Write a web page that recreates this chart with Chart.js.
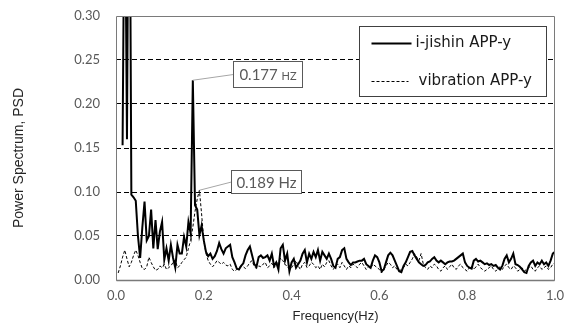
<!DOCTYPE html>
<html><head><meta charset="utf-8">
<script src="https://cdn.jsdelivr.net/npm/chart.js@4"></script>
<style>html,body{margin:0;padding:0;background:#fff}#wrap{width:568px;height:328px}</style>
</head><body><div id="wrap"><canvas id="c" width="568" height="328"></canvas></div>
<script>
// Frequency bins (Hz)
const freqHz = [
0,0.005,0.01,0.015,0.02,0.025,0.03,0.035,0.04,0.045,0.05,0.055,0.06,0.065,0.07,0.075,0.08,0.085,0.09,0.095,
0.1,0.105,0.11,0.115,0.12,0.125,0.13,0.135,0.14,0.145,0.15,0.155,0.16,0.165,0.17,0.175,0.18,0.185,0.19,0.195,
0.2,0.205,0.21,0.215,0.22,0.225,0.23,0.235,0.24,0.245,0.25,0.255,0.26,0.265,0.27,0.275,0.28,0.285,0.29,0.295,
0.3,0.305,0.31,0.315,0.32,0.325,0.33,0.335,0.34,0.345,0.35,0.355,0.36,0.365,0.37,0.375,0.38,0.385,0.39,0.395,
0.4,0.405,0.41,0.415,0.42,0.425,0.43,0.435,0.44,0.445,0.45,0.455,0.46,0.465,0.47,0.475,0.48,0.485,0.49,0.495,
0.5,0.505,0.51,0.515,0.52,0.525,0.53,0.535,0.54,0.545,0.55,0.555,0.56,0.565,0.57,0.575,0.58,0.585,0.59,0.595,
0.6,0.605,0.61,0.615,0.62,0.625,0.63,0.635,0.64,0.645,0.65,0.655,0.66,0.665,0.67,0.675,0.68,0.685,0.69,0.695,
0.7,0.705,0.71,0.715,0.72,0.725,0.73,0.735,0.74,0.745,0.75,0.755,0.76,0.765,0.77,0.775,0.78,0.785,0.79,0.795,
0.8,0.805,0.81,0.815,0.82,0.825,0.83,0.835,0.84,0.845,0.85,0.855,0.86,0.865,0.87,0.875,0.88,0.885,0.89,0.895,
0.9,0.905,0.91,0.915,0.92,0.925,0.93,0.935,0.94,0.945,0.95,0.955,0.96,0.965,0.97,0.975,0.98,0.985,0.99,0.995,
1
];
// PSD, i-jishin APP-y (solid)
const psdIjishin = [
null,null,null,0.153,0.50,0.16,0.60,0.097,0.094,0.090,
0.05,0.025,0.06,0.089,0.045,0.05,0.080,0.036,0.068,0.035,
0.055,0.066,0.023,0.036,0.022,0.040,0.025,0.014,0.040,0.030,
0.030,0.049,0.038,0.066,0.053,0.227,0.085,0.080,0.051,0.062,
0.045,0.032,0.027,0.030,0.024,0.027,0.033,0.042,0.035,0.030,
0.036,0.038,0.040,0.026,0.020,0.013,0.012,0.016,0.019,0.028,
0.034,0.038,0.028,0.018,0.015,0.026,0.028,0.025,0.026,0.028,
0.022,0.030,0.016,0.020,0.012,0.036,0.040,0.022,0.030,0.010,
0.020,0.024,0.014,0.018,0.022,0.030,0.034,0.020,0.030,0.024,
0.032,0.026,0.034,0.022,0.032,0.028,0.024,0.030,0.024,0.016,
0.014,0.024,0.026,0.034,0.036,0.024,0.020,0.017,0.020,0.020,
0.021,0.022,0.022,0.024,0.018,0.016,0.014,0.022,0.028,0.026,
0.020,0.010,0.012,0.020,0.028,0.031,0.028,0.022,0.016,0.010,
0.009,0.016,0.020,0.026,0.032,0.033,0.028,0.024,0.020,0.018,
0.016,0.017,0.020,0.021,0.024,0.026,0.022,0.020,0.022,0.020,
0.018,0.020,0.021,0.021,0.022,0.024,0.026,0.028,0.030,0.020,
0.016,0.014,0.013,0.022,0.024,0.021,0.022,0.020,0.018,0.019,
0.017,0.018,0.016,0.017,0.014,0.012,0.016,0.024,0.028,0.020,
0.024,0.030,0.018,0.017,0.015,0.012,0.009,0.008,0.016,0.020,
0.022,0.016,0.020,0.018,0.022,0.018,0.020,0.016,0.022,0.030,
0.032
];
// PSD, vibration APP-y (dashed)
const psdVibration = [
null,0.008,0.016,0.026,0.034,0.024,0.015,0.020,0.028,0.034,
0.028,0.020,0.013,0.012,0.015,0.026,0.020,0.015,0.011,0.012,
0.016,0.014,0.018,0.012,0.014,0.016,0.020,0.023,0.014,0.016,
0.020,0.023,0.026,0.036,0.045,0.060,0.078,0.092,0.102,0.075,
0.045,0.030,0.022,0.018,0.015,0.018,0.022,0.020,0.018,0.020,
0.017,0.016,0.018,0.012,0.010,0.012,0.014,0.016,0.015,0.013,
0.016,0.020,0.022,0.015,0.013,0.016,0.015,0.018,0.020,0.014,
0.016,0.019,0.014,0.018,0.020,0.025,0.022,0.018,0.015,0.012,
0.014,0.018,0.022,0.016,0.012,0.018,0.020,0.014,0.016,0.020,
0.018,0.014,0.016,0.012,0.018,0.015,0.020,0.022,0.016,0.012,
0.016,0.018,0.014,0.020,0.016,0.012,0.016,0.014,0.018,0.016,
0.014,0.018,0.020,0.016,0.012,0.015,0.013,0.018,0.016,0.014,
0.012,0.008,0.012,0.016,0.020,0.018,0.014,0.016,0.012,0.010,
0.012,0.014,0.018,0.016,0.020,0.024,0.030,0.026,0.022,0.030,
0.018,0.014,0.012,0.016,0.014,0.018,0.016,0.012,0.010,0.014,
0.016,0.012,0.015,0.018,0.014,0.012,0.016,0.018,0.014,0.012,
0.010,0.014,0.016,0.012,0.015,0.018,0.014,0.012,0.010,0.012,
0.014,0.016,0.012,0.010,0.013,0.015,0.012,0.016,0.018,0.014,
0.012,0.016,0.014,0.010,0.012,0.014,0.010,0.012,0.014,0.016,
0.012,0.010,0.014,0.016,0.012,0.014,0.016,0.012,0.014,0.018,
0.020
];
const seriesNames = ['i-jishin APP-y', 'vibration APP-y'];
const yTickValues = [0, 0.05, 0.10, 0.15, 0.20, 0.25, 0.30];
const xTickValues = [0, 0.2, 0.4, 0.6, 0.8, 1.0];

// callout labels (text + which point they point to)
const calloutTexts = ['0.177', '0.189'];
const calloutUnits = ['HZ', 'Hz'];
const calloutSeries = [0, 1];
const calloutIndex = [35, 38];

const style = {
  frameColor: '#7a7a7a',
  tickColor: '#595959',
  callout: [
    {boxFreq: 0.2665, boxValue: 0.249, w: 69, h: 26, unitSize: 11},
    {boxFreq: 0.262, boxValue: 0.125, w: 70, h: 23, unitSize: 15}
  ],
  legend: {rightInset: 9, topInset: 10, w: 187, h: 70}
};

const overlay = {
  id: 'overlay',
  afterDraw(chart) {
    const {ctx, chartArea: a, scales: {x, y}} = chart;
    ctx.save();
    // frame
    ctx.strokeStyle = style.frameColor;
    ctx.lineWidth = 1;
    const L = Math.round(a.left) + 0.5, T = Math.round(a.top) + 0.5;
    const R = Math.round(a.right) - 0.5, B = Math.round(a.bottom) + 0.5;
    ctx.beginPath();
    ctx.moveTo(L, T); ctx.lineTo(R, T); ctx.lineTo(R, B); ctx.lineTo(L, B); ctx.closePath();
    ctx.stroke();
    ctx.lineWidth = 1.5;
    ctx.beginPath(); ctx.moveTo(L, B); ctx.lineTo(R, B); ctx.stroke();

    // callouts
    const series = [psdIjishin, psdVibration];
    calloutTexts.forEach((t, k) => {
      const s = style.callout[k];
      const px = x.getPixelForValue(freqHz[calloutIndex[k]]);
      const py = y.getPixelForValue(series[calloutSeries[k]][calloutIndex[k]]);
      const bx = Math.round(x.getPixelForValue(s.boxFreq)) + 0.5;
      const by = Math.round(y.getPixelForValue(s.boxValue)) + 0.5;
      ctx.strokeStyle = '#a6a6a6'; ctx.lineWidth = 1;
      ctx.beginPath(); ctx.moveTo(px, py); ctx.lineTo(bx, by + s.h / 2); ctx.stroke();
      ctx.fillStyle = '#fff';
      ctx.fillRect(bx, by, s.w, s.h);
      ctx.strokeStyle = '#595959';
      ctx.strokeRect(bx, by, s.w, s.h);
      ctx.fillStyle = '#595959';
      ctx.textBaseline = 'middle';
      ctx.font = '15px Lato';
      const main = t + ' ';
      const w1 = ctx.measureText(main).width;
      ctx.font = s.unitSize + 'px Lato';
      const w2 = ctx.measureText(calloutUnits[k]).width;
      const sx = bx + (s.w - w1 - w2) / 2;
      const cy = by + s.h / 2 + 1;
      ctx.font = '15px Lato';
      ctx.textAlign = 'left';
      ctx.fillText(main, sx, cy);
      ctx.font = s.unitSize + 'px Lato';
      ctx.fillText(calloutUnits[k], sx + w1, cy + (s.unitSize < 15 ? 1 : 0));
    });

    // legend
    const lg = style.legend;
    const lx = Math.round(a.right - lg.rightInset - lg.w) + 0.5;
    const ly = Math.round(a.top + lg.topInset) + 0.5;
    ctx.fillStyle = '#fff';
    ctx.fillRect(lx, ly, lg.w, lg.h);
    ctx.strokeStyle = '#404040'; ctx.lineWidth = 1;
    ctx.strokeRect(lx, ly, lg.w, lg.h);
    const rows = [
      {y: ly + 17, dash: [], width: 2.2, x1: lx + 12, x2: lx + 52, tx: lx + 56},
      {y: ly + 55, dash: [3, 2], width: 1, x1: lx + 12, x2: lx + 49, tx: lx + 59}
    ];
    rows.forEach((r, k) => {
      ctx.strokeStyle = '#000'; ctx.lineWidth = r.width; ctx.setLineDash(r.dash);
      ctx.beginPath(); ctx.moveTo(r.x1, r.y); ctx.lineTo(r.x2, r.y); ctx.stroke();
      ctx.setLineDash([]);
      ctx.fillStyle = '#1a1a1a';
      ctx.font = '15px "DejaVu Sans"';
      ctx.textAlign = 'left'; ctx.textBaseline = 'middle';
      ctx.fillText(seriesNames[k], r.tx, r.y);
    });

    // y axis title
    ctx.save();
    ctx.translate(19, 158);
    ctx.rotate(-Math.PI / 2);
    ctx.fillStyle = '#262626';
    ctx.font = '14px "Liberation Sans"';
    ctx.textAlign = 'center'; ctx.textBaseline = 'middle';
    ctx.fillText('Power Spectrum, PSD', 0, 0);
    ctx.restore();
    ctx.restore();
  }
};

new Chart(document.getElementById('c'), {
  type: 'line',
  data: {
    datasets: [
      {label: seriesNames[0], data: freqHz.map((f, i) => ({x: f, y: psdIjishin[i]})),
       borderColor: '#000', borderWidth: 2, pointRadius: 0, tension: 0, fill: false},
      {label: seriesNames[1], data: freqHz.map((f, i) => ({x: f, y: psdVibration[i]})),
       borderColor: '#000', borderWidth: 1, borderDash: [3, 2], pointRadius: 0, tension: 0, fill: false}
    ]
  },
  options: {
    responsive: false, animation: false, devicePixelRatio: 1,
    layout: {padding: {left: 0, right: 13, top: 16, bottom: 0}},
    plugins: {legend: {display: false}, tooltip: {enabled: false}},
    scales: {
      x: {
        type: 'linear', min: 0, max: 1,
        afterBuildTicks: s => { s.ticks = xTickValues.map(v => ({value: v})); },
        ticks: {callback: v => v.toFixed(1), color: style.tickColor, font: {family: 'Lato', size: 13}, padding: 8, maxRotation: 0},
        grid: {display: false, drawTicks: false},
        border: {display: false},
        title: {display: true, text: 'Frequency(Hz)', color: '#262626', font: {family: 'Liberation Sans', size: 13}, padding: {top: 2, bottom: 4}},
        afterFit: s => { s.height = 48; s.paddingLeft = 0; s.paddingRight = 0; }
      },
      y: {
        type: 'linear', min: 0, max: 0.3,
        afterBuildTicks: s => { s.ticks = yTickValues.map(v => ({value: v})); },
        ticks: {callback: v => v.toFixed(2), color: style.tickColor, font: {family: 'Lato', size: 13}, padding: 16},
        grid: {drawTicks: false, lineWidth: 1,
               color: c => (c.tick && (c.tick.value < 0.001 || c.tick.value > 0.299)) ? 'rgba(0,0,0,0)' : '#000'},
        border: {display: false, dash: [5, 3]},
        afterFit: s => { s.width = 116; s.paddingTop = 0; s.paddingBottom = 0; }
      }
    }
  },
  plugins: [overlay]
});
</script>
</body></html>
